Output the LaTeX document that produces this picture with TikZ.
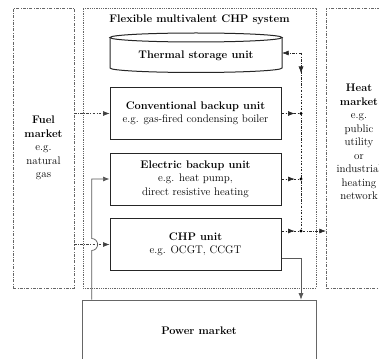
\documentclass[tikz,border=0pt]{standalone}
\usepackage{fontspec}
\usetikzlibrary{arrows.meta,calc}
\begin{document}
\begin{tikzpicture}[x=1pt,y=-1pt,
  txt/.style={font=\fontsize{11}{13.5}\selectfont, align=center, inner sep=0pt},
  unitline/.style={draw=black!85, line width=1pt},
  unitbox/.style={txt, unitline, minimum width=171pt, minimum height=52pt},
  market/.style={draw=black!60, line width=0.5pt, dash pattern=on 3pt off 1.5pt on 0.6pt off 1.5pt},
  sysbox/.style={draw=black!60, line width=0.5pt, dash pattern=on 0.8pt off 1pt},
  powerbox/.style={txt, draw=black!60, line width=0.7pt},
  heatflow/.style={black!85, line width=0.55pt, dash pattern=on 2.5pt off 1.5pt on 0.6pt off 1.5pt},
  fuelflow/.style={black!75, line width=0.55pt, dash pattern=on 2.5pt off 1.5pt on 0.6pt off 1.5pt},
  powerflow/.style={black!65, line width=0.7pt},
  tip/.style={-{Latex[length=6.5pt,width=5pt]}},
  jdot/.style={circle, fill=black, inner sep=0pt, minimum size=3.4pt}
]
\useasboundingbox (0,0) rectangle (379,358);
\fill[white] (0,0) rectangle (379,358);

% markets and system frame
\node[txt, market, minimum width=61pt, minimum height=280pt] (fuel) at (43.5,148)
  {\textbf{Fuel}\\\textbf{market}\\e.g.\\natural\\gas};
\node[sysbox, minimum width=233pt, minimum height=280pt] (sys) at (199.5,148) {};
\node[txt] (systitle) at (199.5,20) {\textbf{Flexible multivalent CHP system}};
\node[market, minimum width=62pt, minimum height=280pt] (heat) at (357,148) {};
\node[txt] (heattext) at (359,142)
  {\textbf{Heat}\\\textbf{market}\\e.g.\\public\\utility\\or\\industrial\\heating\\network};
\node[powerbox, minimum width=234pt, minimum height=62pt] (power) at (199,331) {\textbf{Power market}};

% thermal storage cylinder
\node[txt, minimum width=172pt, minimum height=30pt] (storage) at (196,56) {\textbf{Thermal storage unit}};
\draw[unitline] (110,37.5) -- (110,68) arc[start angle=180,end angle=360,x radius=86pt,y radius=4.5pt] -- (282,37.5);
\draw[unitline] (196,37.5) ellipse[x radius=86pt,y radius=4.5pt];

% units
\node[unitbox] (conv) at (195.5,113.5) {\textbf{Conventional backup unit}\\e.g. gas-fired condensing boiler};
\node[unitbox] (elec) at (195.5,179) {\textbf{Electric backup unit}\\e.g. heat pump,\\direct resistive heating};
\node[unitbox] (chp) at (195.5,244.5) {\textbf{CHP unit}\\e.g. OCGT, CCGT};

% heat junctions
\coordinate (jtop) at (301,53);
\coordinate (jmid) at (301,73);
\node[jdot] (j1) at (301,113.5) {};
\node[jdot] (j2) at (301,179) {};
\node[jdot] (j3) at (301,231) {};
\coordinate (chpheat) at ([yshift=13.5pt]chp.east);
\coordinate (chppow) at ([yshift=-13.5pt]chp.east);

\draw[heatflow] (jtop) -- (j3);
\draw[heatflow,tip] (jtop) -- (jtop -| storage.east);
\draw[heatflow,tip] (jtop) -- (jmid);
\draw[heatflow] (conv.east) -- (j1);
\draw[heatflow,tip] (conv.east) -- ++(13,0);
\draw[heatflow] (elec.east) -- (j2);
\draw[heatflow,tip] (elec.east) -- ++(13,0);
\draw[heatflow] (chpheat) -- (j3);
\draw[heatflow,tip] (chpheat) -- ++(13,0);
\draw[heatflow,tip] (j3) -- (j3 -| heat.west);

% fuel flows
\draw[fuelflow,tip] (fuel.east |- conv.west) -- (conv.west);
\draw[fuelflow,tip] (fuel.east |- chp.west) -- (chp.west);

% power flows
\coordinate (pin) at ([xshift=10pt]power.north west);
\draw[powerflow,tip] (pin) -- ($(pin |- chp.west)+(0,6)$)
  arc[start angle=-90,end angle=90,radius=6pt] |- (elec.west);
\draw[powerflow,tip] (chppow) -| (j3 |- power.north);
\end{tikzpicture}
\end{document}
